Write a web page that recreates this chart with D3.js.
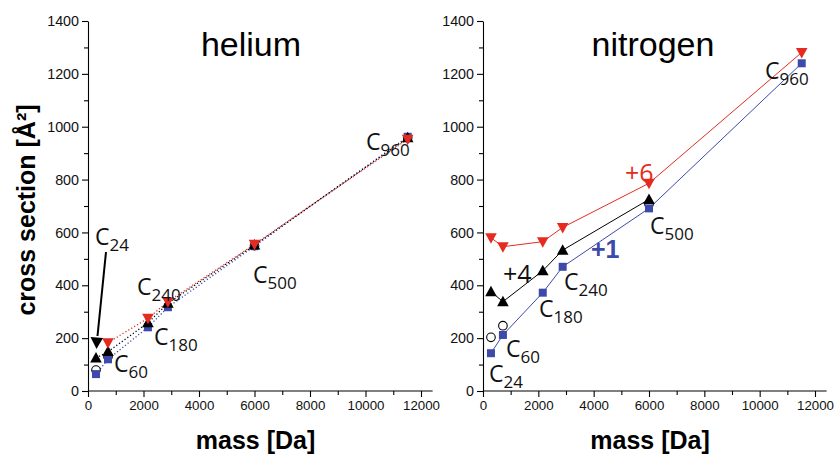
<!DOCTYPE html>
<html><head><meta charset="utf-8">
<script src="https://cdn.jsdelivr.net/npm/d3@7"></script>
<style>body{margin:0;background:#fff}svg{display:block}</style>
</head><body>
<svg id="c" width="840" height="455"></svg>
<script>
// ---- data ----
const clusters = ["C24","C60","C180","C240","C500","C960"];
const masses = [288, 720, 2160, 2880, 6000, 11520];
// helium
const heP1  = [64, 120, 241, 317, 548, 962];
const heN   = [79, 130, null, null, 550, 958];
const heP4  = [125, 149, 258, 332, 552, 958];
const heP6  = [null, 183, 275, 338, 555, 953];
// nitrogen
const n2P1  = [143, 212, 372, 470, 691, 1240];
const n2N   = [203, 247, null, null, 707, null];
const n2P4  = [376, 338, 455, 533, 725, null];
const n2P6  = [580, 546, 565, 619, 786, 1281];
const yTicks = [0,200,400,600,800,1000,1200,1400];
const xTicks = [0,2000,4000,6000,8000,10000,12000];

const RED="#e52b20", BLUE="#3d4aa9", BLK="#000";
const svg = d3.select("#c");

function panel(opt){
  const g = svg.append("g");
  const x = d3.scaleLinear().domain([0,12000]).range([opt.x0, opt.x1]);
  const y = d3.scaleLinear().domain([0,1400]).range([391,21]);
  // axes
  const yAx = d3.axisLeft(y).tickValues(yTicks).tickSize(6).tickSizeOuter(0).tickPadding(3).tickFormat(d3.format("d"));
  const ya = g.append("g").attr("transform",`translate(${opt.x0},0)`).call(yAx);
  ya.selectAll(".tick text").attr("font-size",14.3);
  const yMinor = d3.axisLeft(y).tickValues(d3.range(100,1400,200)).tickSize(4).tickFormat("").tickSizeOuter(0);
  g.append("g").attr("transform",`translate(${opt.x0},0)`).call(yMinor).select(".domain").remove();
  const xAx = d3.axisBottom(x).tickValues(xTicks).tickSize(6).tickSizeOuter(0).tickPadding(4).tickFormat(d3.format("d"));
  const xa = g.append("g").attr("transform",`translate(0,391)`).call(xAx);
  xa.select(".domain").attr("d",`M${opt.x0},0H${x(12420)}`);
  xa.selectAll(".tick text").attr("font-size",13.3);
  const xMinor = d3.axisBottom(x).tickValues(d3.range(1000,13000,2000)).tickSize(4).tickFormat("").tickSizeOuter(0);
  g.append("g").attr("transform",`translate(0,391)`).call(xMinor).select(".domain").remove();
  g.selectAll(".tick text").attr("font-family","Liberation Sans, Arial, sans-serif").attr("fill","#111");
  g.selectAll(".domain, .tick line").attr("stroke","#000").attr("stroke-width",1.1);

  // title
  g.append("text").attr("x",opt.titleX).attr("y",56).attr("text-anchor","middle")
    .attr("font-family","Liberation Sans, Arial, sans-serif").attr("font-size",34).text(opt.title);
  // x label
  g.append("text").attr("x",(opt.x0+x(12000))/2+1).attr("y",449).attr("text-anchor","middle")
    .attr("font-family","Liberation Sans, Arial, sans-serif").attr("font-weight","bold").attr("font-size",25).text("mass [Da]");

  const dash = opt.dashed ? "1.2,2.2" : null;
  function line(vals, color, w){
    const pts = masses.map((m,i)=>[m,vals[i]]).filter(p=>p[1]!=null);
    g.append("path").datum(pts).attr("fill","none").attr("stroke",color).attr("stroke-width",w)
      .attr("stroke-dasharray",dash)
      .attr("d",d3.line().x(d=>x(d[0])).y(d=>y(d[1])));
  }
  opt.lines.forEach(l=>line(l[0],l[1],opt.dashed?1.3:1));

  function pts(vals){ return masses.map((m,i)=>[m,vals[i]]).filter(p=>p[1]!=null); }
  // circles
  g.selectAll(null).data(pts(opt.N)).enter().append("circle")
    .attr("cx",d=>x(d[0])).attr("cy",d=>y(d[1])).attr("r",4.3)
    .attr("fill","#fff").attr("stroke","#000").attr("stroke-width",1.1);
  // squares +1
  g.selectAll(null).data(pts(opt.P1)).enter().append("path")
    .attr("transform",d=>`translate(${x(d[0])},${y(d[1])})`)
    .attr("d",d3.symbol(d3.symbolSquare,64)()).attr("fill",BLUE);
  // up triangles +4
  g.selectAll(null).data(pts(opt.P4)).enter().append("path")
    .attr("transform",d=>`translate(${x(d[0])},${y(d[1])})`)
    .attr("d","M0,-6L5.8,4.5L-5.8,4.5Z").attr("fill",BLK);
  // down triangles +6
  g.selectAll(null).data(pts(opt.P6)).enter().append("path")
    .attr("transform",d=>`translate(${x(d[0])},${y(d[1])})`)
    .attr("d","M0,6L5.8,-4.5L-5.8,-4.5Z").attr("fill",RED);

  // cluster labels
  opt.labels.forEach(L=>{
    const t = g.append("text").attr("x",L[1]).attr("y",L[2])
      .attr("font-family","Open Sans, Lato, sans-serif").attr("font-size",23).attr("fill","#111");
    t.append("tspan").text("C");
    t.append("tspan").attr("font-size",17).attr("dy",6).text(L[0].slice(1));
  });
  return {g,x,y};
}

const left = panel({x0:88, x1:421, title:"helium", titleX:251, dashed:true,
  P1:heP1, N:heN, P4:heP4, P6:heP6,
  lines:[[heP1,BLUE],[heP4,BLK],[heP6,RED]],
  labels:[["C24",95,245],["C60",114,372],["C180",154,345],["C240",137,295],["C500",253,283],["C960",366,150]]});

// arrow to C24 (helium)
left.g.append("line").attr("x1",106).attr("y1",252).attr("x2",97.5).attr("y2",336)
  .attr("stroke","#000").attr("stroke-width",2);
left.g.append("path").attr("d","M96.5,349L90.5,337L103,338Z").attr("fill","#000");

const right = panel({x0:483, x1:815, title:"nitrogen", titleX:653, dashed:false,
  P1:n2P1, N:n2N, P4:n2P4, P6:n2P6,
  lines:[[n2P1,BLUE],[n2P4,BLK],[n2P6,RED]],
  labels:[["C24",489,382],["C60",506,357],["C180",539,317],["C240",564,290],["C500",650,234],["C960",765,79]]});

// charge labels
right.g.append("text").attr("x",503).attr("y",283).attr("font-family","Open Sans, sans-serif")
  .attr("font-size",25).attr("fill","#111").text("+4");
right.g.append("text").attr("x",591).attr("y",258).attr("font-family","Liberation Sans, Arial, sans-serif")
  .attr("font-weight","bold").attr("font-size",25).attr("fill",BLUE).text("+1");
right.g.append("text").attr("x",625).attr("y",182).attr("font-family","Open Sans, sans-serif")
  .attr("font-size",25).attr("fill",RED).text("+6");

// y label
svg.append("text").attr("transform","translate(35,210) rotate(-90)").attr("text-anchor","middle")
  .attr("font-family","Liberation Sans, Arial, sans-serif").attr("font-weight","bold").attr("font-size",25)
  .text("cross section [Å²]");
</script>
</body></html>
